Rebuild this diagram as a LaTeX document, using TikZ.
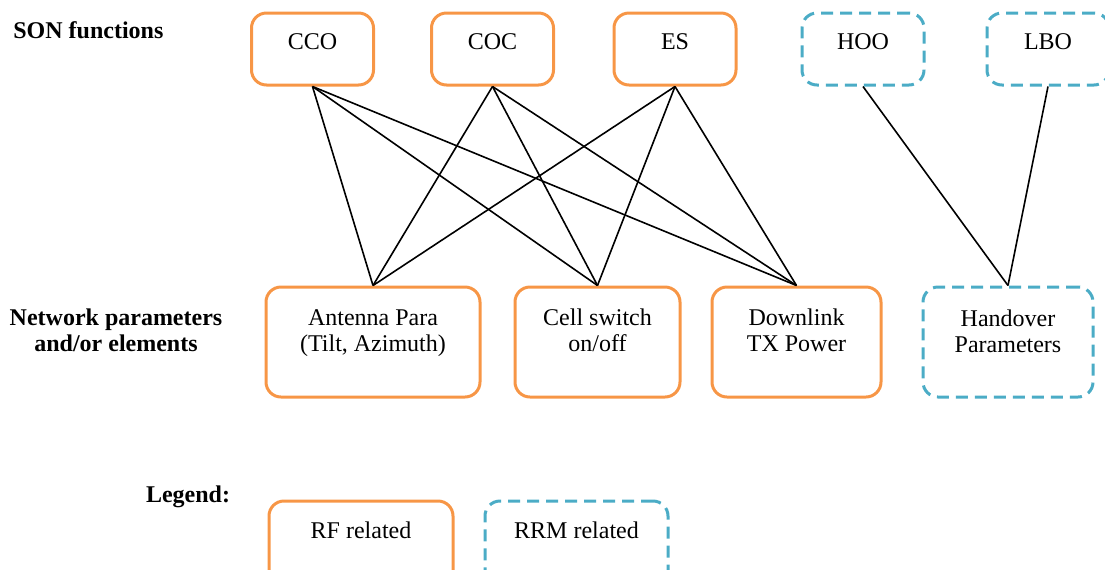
\documentclass[tikz,border=0pt]{standalone}
\usepackage{fontspec}
\setmainfont{Liberation Serif}
\usepackage{tikz}
\usetikzlibrary{positioning}
\definecolor{rforange}{RGB}{247,150,70}
\definecolor{rrmblue}{RGB}{75,172,198}

\begin{document}
\begin{tikzpicture}[x=0.5pt,y=-0.5pt,
        font=\fontsize{12}{13}\selectfont,
        rfbox/.style={draw=rforange, line width=1.5pt, rounded corners=7.5pt, inner sep=0pt},
        rrmbox/.style={draw=rrmblue, line width=1.5pt, rounded corners=7.5pt, dash pattern=on 6pt off 3.5pt, inner sep=0pt},
        topfn/.style={minimum width=61pt, minimum height=36pt},
        txt/.style={align=center, inner sep=0pt},
        head/.style={font=\fontsize{12}{13}\selectfont\bfseries, align=center, inner sep=0pt},
        link/.style={black, line width=0.8pt}]
        \useasboundingbox (0,0) rectangle (1105,569);
        % SON functions
        \node[head, anchor=west] (sonhead) at (13,30) {SON functions};
        \node[rfbox, topfn] (cco) at (312.5,49) {};
        \node[rfbox, topfn] (coc) at (492.5,49) {};
        \node[rfbox, topfn] (es) at (675,49) {};
        \node[rrmbox, topfn] (hoo) at (863,49) {};
        \node[rrmbox, topfn] (lbo) at (1048,49) {};
        \node[txt] (ccotxt) at (312.5,42) {CCO};
        \node[txt] (coctxt) at (492.5,42) {COC};
        \node[txt] (estxt) at (675,42) {ES};
        \node[txt] (hootxt) at (863,42) {HOO};
        \node[txt] (lbotxt) at (1048,42) {LBO};
        % Network parameters and/or elements
        \node[head] (parhead) at (116,330) {Network parameters\\and/or elements};
        \node[rfbox, minimum width=107pt, minimum height=55pt] (ant) at (373,342) {};
        \node[rfbox, minimum width=82.5pt, minimum height=55pt] (cell) at (597.5,342) {};
        \node[rfbox, minimum width=84.5pt, minimum height=55pt] (dl) at (796.5,342) {};
        \node[rrmbox, minimum width=85pt, minimum height=55pt] (ho) at (1008,342) {};
        \node[txt] (anttxt) at (373,333) {Antenna Para\\(Tilt, Azimuth)};
        \node[txt] (celltxt) at (597.5,330) {Cell switch\\on/off};
        \node[txt] (dltxt) at (796.5,330) {Downlink\\TX Power};
        \node[txt] (hotxt) at (1008,331) {Handover\\Parameters};
        % links
        \foreach \f in {cco,coc,es} {
            \foreach \p in {ant,cell,dl} {
                \draw[link] (\f.south) -- (\p.north);
            }
        }
        \draw[link] (hoo.south) -- (ho.north);
        \draw[link] (lbo.south) -- (ho.north);
        % Legend
        \node[head] (leghead) at (188,497) {Legend:};
        \node[rfbox, minimum width=92pt, minimum height=50pt] (legrf) at (361,551) {};
        \node[rrmbox, minimum width=91.5pt, minimum height=50pt] (legrrm) at (576.5,551) {};
        \node[txt] (legrftxt) at (361,530) {RF related};
        \node[txt] (legrrmtxt) at (576.5,530) {RRM related};
    \end{tikzpicture}
\end{document}
